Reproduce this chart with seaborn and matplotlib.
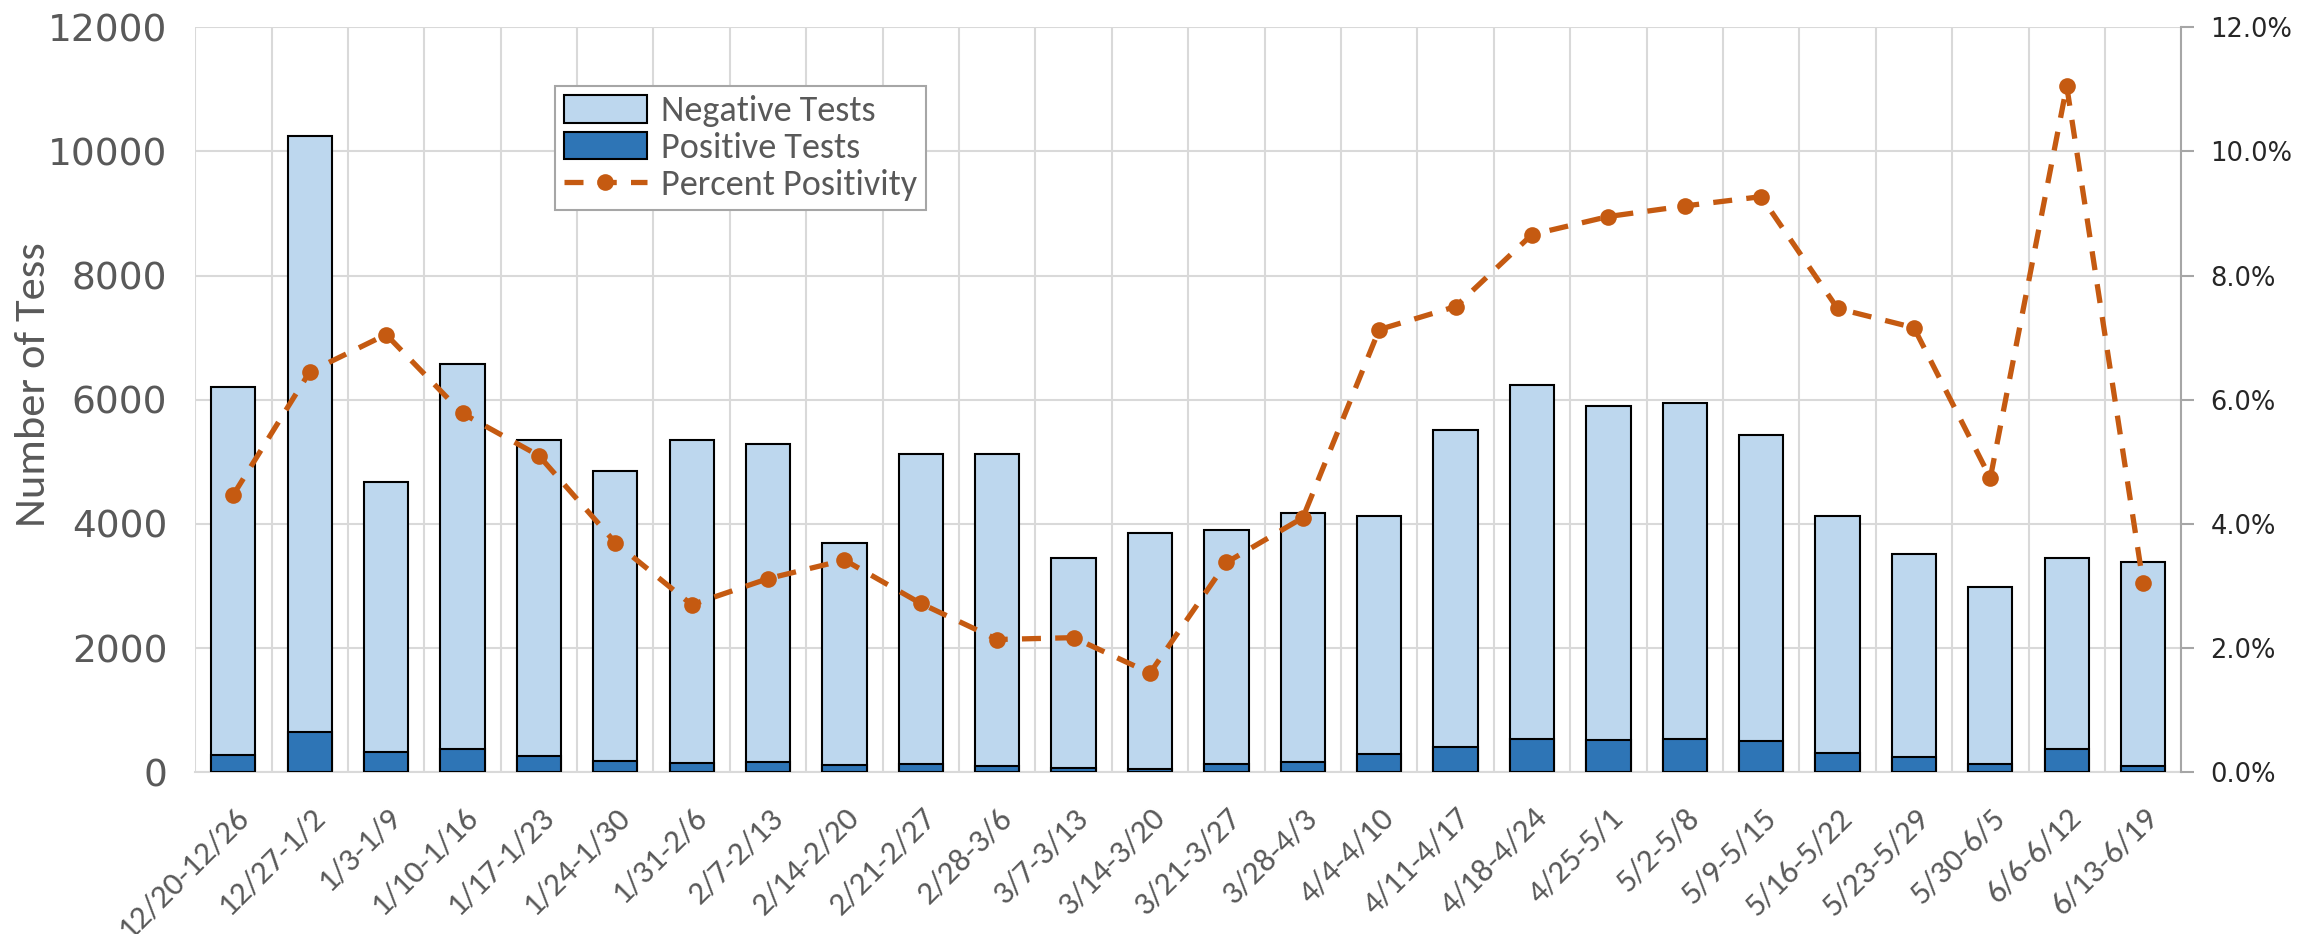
import matplotlib
matplotlib.use("Agg")
import matplotlib.pyplot as plt
import matplotlib.ticker as mtick
from matplotlib import font_manager
from matplotlib.patches import Patch
from matplotlib.lines import Line2D
import numpy as np
import seaborn as sns

# Semanas
weeks = ['12/20-12/26', '12/27-1/2', '1/3-1/9', '1/10-1/16', '1/17-1/23', '1/24-1/30',
         '1/31-2/6', '2/7-2/13', '2/14-2/20', '2/21-2/27', '2/28-3/6', '3/7-3/13',
         '3/14-3/20', '3/21-3/27', '3/28-4/3', '4/4-4/10', '4/11-4/17', '4/18-4/24',
         '4/25-5/1', '5/2-5/8', '5/9-5/15', '5/16-5/22', '5/23-5/29', '5/30-6/5',
         '6/6-6/12', '6/13-6/19']

positive_tests = [275, 655, 330, 380, 270, 180, 145, 165, 125, 140, 110, 75,
                  60, 130, 170, 295, 415, 540, 525, 540, 505, 305, 250, 140,
                  380, 105]
negative_tests = [5925, 9595, 4340, 6190, 5080, 4670, 5205, 5125, 3575, 4990, 5020, 3375,
                  3790, 3780, 4010, 3835, 5095, 5690, 5375, 5400, 4935, 3825, 3260, 2850,
                  3080, 3285]
pct_positivity = [4.47, 6.45, 7.05, 5.78, 5.1, 3.7, 2.7, 3.12, 3.42, 2.72, 2.14, 2.17,
                  1.6, 3.38, 4.1, 7.13, 7.5, 8.66, 8.95, 9.12, 9.27, 7.47, 7.16, 4.74,
                  11.05, 3.05]

LIGHT = '#BDD7EE'
DARK = '#2E75B6'
ORANGE = '#C55A11'
GRID = '#D9D9D9'
DASH = (0, (3.6, 2.7))


def pick_font(names):
    installed = {f.name for f in font_manager.fontManager.ttflist}
    for n in names:
        if n in installed:
            return n
    return 'DejaVu Sans'


narrow = pick_font(['Carlito', 'Liberation Sans Narrow', 'Open Sans'])

sns.set_style('white')
plt.rcParams['font.family'] = ['DejaVu Sans']

fig = plt.figure(figsize=(23.23, 9.34), dpi=100)
ax = fig.add_axes([0.084, 0.173, 0.855, 0.798])

totals = [n + p for n, p in zip(negative_tests, positive_tests)]
sns.barplot(x=weeks, y=totals, color=LIGHT, edgecolor='black', linewidth=1.5,
            width=0.58, saturation=1, ax=ax, zorder=2)
sns.barplot(x=weeks, y=positive_tests, color=DARK, edgecolor='black', linewidth=1.5,
            width=0.58, saturation=1, ax=ax, zorder=3)

ax.set_xlim(-0.5, len(weeks) - 0.5)
ax.set_ylim(0, 12000)
ax.set_yticks(range(0, 12001, 2000))
ax.set_axisbelow(True)
ax.yaxis.grid(True, color=GRID, linewidth=1.5)
ax.set_xticks(np.arange(len(weeks) + 1) - 0.5, minor=True)
ax.xaxis.grid(True, which='minor', color=GRID, linewidth=1.5)
ax.xaxis.grid(False, which='major')
for s in ['top', 'right', 'left']:
    ax.spines[s].set_visible(False)
ax.spines['bottom'].set_color(GRID)
ax.spines['bottom'].set_linewidth(1.5)
ax.tick_params(axis='both', which='both', length=0)
ax.tick_params(axis='y', labelsize=27, labelcolor='#595959', pad=20)
ax.set_xticks(range(len(weeks)))
ax.set_xticklabels(weeks, rotation=45, ha='right', rotation_mode='anchor',
                   fontsize=24, color='#595959', family=narrow)
ax.tick_params(axis='x', pad=22)
ax.set_xlabel('')
ax.set_ylabel('Number of Tess', fontsize=32, color='#595959', family=narrow, labelpad=6)
ax.yaxis.set_label_coords(-0.072, 0.52)

ax2 = ax.twinx()
sns.lineplot(x=np.arange(len(weeks)), y=np.array(pct_positivity) / 100, ax=ax2,
             color=ORANGE, linestyle=DASH, linewidth=3.8, marker='o',
             markersize=12, markeredgewidth=0, zorder=5)
ax2.set_ylim(0, 0.12)
ax2.set_yticks(np.arange(0, 0.1201, 0.02))
ax2.yaxis.set_major_formatter(mtick.PercentFormatter(1.0, decimals=1))
for s in ['top', 'left', 'bottom']:
    ax2.spines[s].set_visible(False)
ax2.spines['right'].set_color('#A6A6A6')
ax2.spines['right'].set_linewidth(1.5)
ax2.tick_params(axis='y', length=9, width=1.5, color='#A6A6A6', labelsize=18.5,
                labelcolor='#262626', pad=12)
ax2.set_ylabel('')
ax2.grid(False)

handles = [
    Patch(facecolor=LIGHT, edgecolor='black', linewidth=1.5, label='Negative Tests'),
    Patch(facecolor=DARK, edgecolor='black', linewidth=1.5, label='Positive Tests'),
    Line2D([0], [0], color=ORANGE, linestyle=DASH, linewidth=3.8, marker='o',
           markersize=12, markeredgewidth=0, label='Percent Positivity'),
]
leg = ax2.legend(handles=handles, loc='upper left', bbox_to_anchor=(0.181, 0.921),
                 fancybox=False, framealpha=1, edgecolor='#A6A6A6',
                 prop={'family': narrow, 'size': 26}, labelcolor='#595959',
                 handlelength=2.3, handleheight=0.8, borderpad=0.25, labelspacing=0.12,
                 handletextpad=0.4, borderaxespad=0)
leg.get_frame().set_linewidth(1.5)

fig.savefig('out.png', dpi=100)
